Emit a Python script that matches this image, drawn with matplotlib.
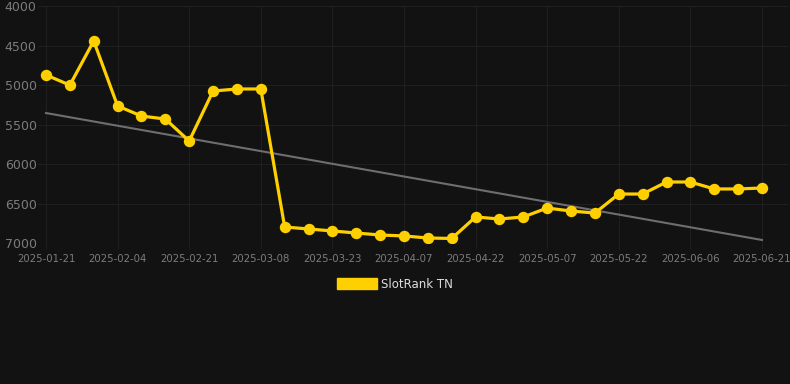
import numpy as np
import matplotlib.pyplot as plt
from matplotlib.patches import Patch

# rank values, one per week-ish point
rank = [4872, 5000, 4442, 5264, 5391, 5429, 5707, 5075, 5049, 5049,
        6794, 6819, 6844, 6870, 6895, 6907, 6933, 6939, 6667, 6693,
        6667, 6554, 6592, 6617, 6377, 6377, 6225, 6225, 6313, 6313, 6301]
tick_labels = ['2025-01-21', '2025-02-04', '2025-02-21', '2025-03-08', '2025-03-23',
               '2025-04-07', '2025-04-22', '2025-05-07', '2025-05-22', '2025-06-06',
               '2025-06-21']
trend_ends = [5353, 6958]
series_name = 'SlotRank TN'

bg = '#121212'
gold = '#FFD000'
grid_c = '#1f1f1f'

fig = plt.figure(figsize=(7.9, 3.84), dpi=100, facecolor=bg)
ax = fig.add_axes([38/790, 1-243.3/384, 750/790, 237.3/384])
ax.set_facecolor(bg)

x = np.arange(len(rank))
ax.plot([x[0], x[-1]], trend_ends, color='#6e6e6e', lw=1.5, zorder=2)
ax.plot(x, rank, color=gold, lw=2.3, marker='o', ms=7.2, zorder=3)

ax.set_ylim(7000, 4000)
ax.set_yticks([4000, 4500, 5000, 5500, 6000, 6500, 7000])
ax.set_xlim(-0.335, 31.09)
ax.set_xticks(x[::3])
ax.set_xticklabels(tick_labels)

ax.grid(True, color=grid_c, lw=0.8)
ax.set_axisbelow(True)
for s in ax.spines.values():
    s.set_visible(False)
ax.tick_params(axis='y', length=0, labelsize=9, labelcolor='#7c7c7c', pad=1)
ax.tick_params(axis='x', length=4, width=0.8, color=grid_c, labelsize=7.3,
               labelcolor='#7c7c7c', pad=4)

fig.legend(handles=[Patch(color=gold, label=series_name)], loc='center',
           bbox_to_anchor=(0.5, 1-284/384), frameon=False, fontsize=8.5,
           labelcolor='#dddddd', handlelength=3.4, handleheight=1.0, handletextpad=0.35)

fig.savefig('out.png', dpi=100, facecolor=bg)
